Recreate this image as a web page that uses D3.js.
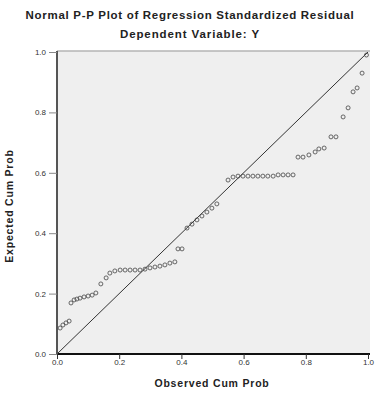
<!DOCTYPE html>
<html>
<head>
<meta charset="utf-8">
<script src="https://cdn.jsdelivr.net/npm/d3@7"></script>
<style>
  body { margin: 0; background: #fff; }
  text { font-family: "Liberation Sans", Arial, sans-serif; }
</style>
</head>
<body>
<div id="chart"></div>
<script>
// Observed vs expected cumulative probabilities
const observed = [
  0.010, 0.019, 0.029, 0.039,
  0.045, 0.055, 0.064, 0.074, 0.087, 0.100, 0.113, 0.125,
  0.141, 0.158,
  0.170, 0.186, 0.203, 0.219, 0.235, 0.251, 0.267, 0.283, 0.299, 0.315, 0.331, 0.347, 0.363, 0.379,
  0.389, 0.402,
  0.418, 0.434, 0.450, 0.466, 0.482, 0.498, 0.514,
  0.550,
  0.566, 0.582, 0.598, 0.614, 0.630, 0.646, 0.662, 0.678, 0.695, 0.711, 0.727, 0.743, 0.759,
  0.775, 0.791, 0.810, 0.830, 0.842, 0.859,
  0.881, 0.897,
  0.920, 0.936,
  0.952, 0.965,
  0.981, 0.995
];
const expected = [
  0.086, 0.096, 0.103, 0.109,
  0.169, 0.179, 0.182, 0.185, 0.189, 0.192, 0.195, 0.202,
  0.232, 0.252,
  0.268, 0.275, 0.278, 0.278, 0.278, 0.278, 0.278, 0.281, 0.285, 0.288, 0.291, 0.295, 0.301, 0.305,
  0.348, 0.348,
  0.417, 0.430, 0.444, 0.457, 0.470, 0.483, 0.497,
  0.576,
  0.586, 0.589, 0.589, 0.589, 0.589, 0.589, 0.589, 0.589, 0.589, 0.593, 0.593, 0.593, 0.593,
  0.652, 0.652, 0.659, 0.669, 0.679, 0.682,
  0.719, 0.719,
  0.785, 0.815,
  0.868, 0.881,
  0.930, 0.990
];
const tickValues = [0, 0.2, 0.4, 0.6, 0.8, 1.0];

const points = observed.map((o, i) => ({ x: o, y: expected[i] }));

const width = 375;
const height = 394;
const margin = { top: 51, right: 5, bottom: 40, left: 57 };

const svg = d3.select('#chart').append('svg')
  .attr('width', width)
  .attr('height', height);

const xScale = d3.scaleLinear().domain([0, 1]).range([margin.left, 368]);
const yScale = d3.scaleLinear().domain([0, 1]).range([354, 52]);

// Plot background
svg.append('rect')
  .attr('x', margin.left)
  .attr('y', margin.top)
  .attr('width', width - margin.right - margin.left)
  .attr('height', 354 - margin.top)
  .attr('fill', '#efefef');

svg.append('line')
  .attr('x1', margin.left).attr('x2', width - margin.right)
  .attr('y1', margin.top).attr('y2', margin.top)
  .attr('stroke', '#b4b4b4').attr('stroke-width', 1.5);

// Titles
svg.append('text')
  .attr('x', 190).attr('y', 19)
  .attr('text-anchor', 'middle')
  .attr('font-size', 11.5).attr('font-weight', 'bold')
  .attr('letter-spacing', 0.7)
  .attr('fill', '#222')
  .text('Normal P-P Plot of Regression Standardized Residual');

svg.append('text')
  .attr('x', 190).attr('y', 38)
  .attr('text-anchor', 'middle')
  .attr('font-size', 11.5).attr('font-weight', 'bold')
  .attr('letter-spacing', 0.9)
  .attr('fill', '#222')
  .text('Dependent Variable: Y');

// Diagonal reference line
svg.append('line')
  .attr('x1', xScale(0)).attr('y1', yScale(0))
  .attr('x2', xScale(1)).attr('y2', yScale(1))
  .attr('stroke', '#333').attr('stroke-width', 1);

// Points
svg.append('g')
  .selectAll('circle')
  .data(points)
  .enter().append('circle')
  .attr('cx', d => xScale(d.x))
  .attr('cy', d => yScale(d.y))
  .attr('r', 2)
  .attr('fill', 'none')
  .attr('stroke', '#444')
  .attr('stroke-width', 0.8);

// Axes
const xAxis = svg.append('g')
  .attr('transform', 'translate(0,354)')
  .call(d3.axisBottom(xScale).tickValues(tickValues).tickFormat(d3.format('.1f')).tickSize(5).tickSizeOuter(0));
xAxis.select('.domain').attr('stroke', '#111').attr('stroke-width', 2)
  .attr('d', `M${margin.left},0H${width - margin.right}`);
xAxis.selectAll('.tick line').attr('stroke', '#333');
xAxis.selectAll('.tick text').attr('font-size', 8).attr('fill', '#333').attr('y', 5).attr('dy', '0.75em');

const yAxis = svg.append('g')
  .attr('transform', `translate(${margin.left},0)`)
  .call(d3.axisLeft(yScale).tickValues(tickValues).tickFormat(d3.format('.1f')).tickSize(8).tickSizeOuter(0));
yAxis.select('.domain').attr('stroke', '#555').attr('stroke-width', 2)
  .attr('d', `M0,354V${margin.top}`);
yAxis.selectAll('.tick line').attr('stroke', '#888');
yAxis.selectAll('.tick text').attr('font-size', 8).attr('fill', '#333');

// Axis titles
svg.append('text')
  .attr('x', 212).attr('y', 387)
  .attr('text-anchor', 'middle')
  .attr('font-size', 10.5).attr('font-weight', 'bold')
  .attr('letter-spacing', 0.8)
  .attr('fill', '#222')
  .text('Observed Cum Prob');

svg.append('text')
  .attr('transform', 'translate(13,206) rotate(-90)')
  .attr('text-anchor', 'middle')
  .attr('font-size', 10.5).attr('font-weight', 'bold')
  .attr('letter-spacing', 0.8)
  .attr('fill', '#222')
  .text('Expected Cum Prob');
</script>
</body>
</html>
